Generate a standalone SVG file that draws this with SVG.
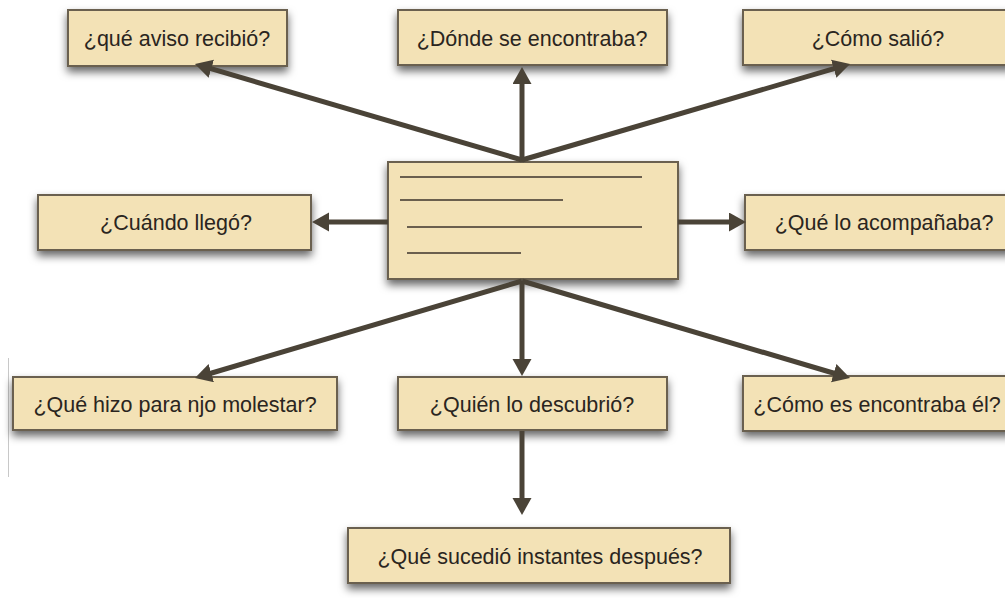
<svg xmlns="http://www.w3.org/2000/svg" width="1005" height="598" viewBox="0 0 1005 598">
<defs>
<filter id="sh" x="-10%" y="-30%" width="120%" height="180%">
<feDropShadow dx="0" dy="5" stdDeviation="4.5" flood-color="#000" flood-opacity="0.6"/>
</filter>
<marker id="ah" markerUnits="userSpaceOnUse" markerWidth="18" markerHeight="20" viewBox="0 0 18 20" refX="3" refY="9.5" orient="auto">
<path d="M0,0 L17,9.5 L0,19 Z" fill="#4a4337"/>
</marker>
<style>
.box{fill:#f3e2b6;stroke:#6b604f;stroke-width:2;filter:url(#sh)}
.t{font-family:"Liberation Sans",Arial,sans-serif;font-size:21.5px;fill:#2a2520;text-anchor:middle}
.c{stroke:#4a4337;stroke-width:5;fill:none;marker-end:url(#ah)}
.ln{stroke:#6a5f4e;stroke-width:2}
</style>
</defs>
<rect width="1005" height="598" fill="#fff"/>
<line x1="8.5" y1="358" x2="8.5" y2="477" stroke="#c8c8c8" stroke-width="1"/>
<g id="n1"><rect class="box" x="68" y="10" width="219" height="56"/><text class="t" x="177" y="46">¿qué aviso recibió?</text></g>
<g id="n2"><rect class="box" x="398" y="10" width="269" height="55"/><text class="t" x="532" y="46">¿Dónde se encontraba?</text></g>
<g id="n3"><rect class="box" x="743" y="10" width="275" height="55"/><text class="t" x="878" y="46">¿Cómo salió?</text></g>
<g id="n4"><rect class="box" x="38" y="195" width="273" height="55"/><text class="t" x="176" y="230">¿Cuándo llegó?</text></g>
<g id="n5"><rect class="box" x="745" y="195" width="275" height="55"/><text class="t" x="884" y="230">¿Qué lo acompañaba?</text></g>
<g id="n6"><rect class="box" x="13" y="377" width="324" height="53"/><text class="t" x="175" y="412">¿Qué hizo para njo molestar?</text></g>
<g id="n7"><rect class="box" x="398" y="377" width="269" height="53"/><text class="t" x="532" y="412">¿Quién lo descubrió?</text></g>
<g id="n8"><rect class="box" x="743" y="376" width="275" height="55"/><text class="t" x="877" y="412">¿Cómo es encontraba él?</text></g>
<g id="n9"><rect class="box" x="348" y="528" width="382" height="55"/><text class="t" x="540" y="564">¿Qué sucedió instantes después?</text></g>
<g id="center">
<rect class="box" x="388" y="162" width="290" height="117" fill="#f2e1b3"/>
<line class="ln" x1="400" y1="177" x2="642" y2="177"/>
<line class="ln" x1="400" y1="200" x2="563" y2="200"/>
<line class="ln" x1="407" y1="227" x2="642" y2="227"/>
<line class="ln" x1="407" y1="253" x2="521" y2="253"/>
</g>
<g id="connectors">
<line class="c" x1="522" y1="160" x2="208.4" y2="67.9"/>
<line class="c" x1="522" y1="162" x2="522" y2="81"/>
<line class="c" x1="522" y1="160" x2="836.6" y2="67.9"/>
<line class="c" x1="388" y1="222" x2="326" y2="222"/>
<line class="c" x1="678" y1="222" x2="732" y2="222"/>
<line class="c" x1="522" y1="281" x2="208.4" y2="374"/>
<line class="c" x1="522" y1="281" x2="522" y2="362"/>
<line class="c" x1="522" y1="281" x2="836.6" y2="374"/>
<line class="c" x1="522" y1="431" x2="522" y2="501"/>
</g>
</svg>
